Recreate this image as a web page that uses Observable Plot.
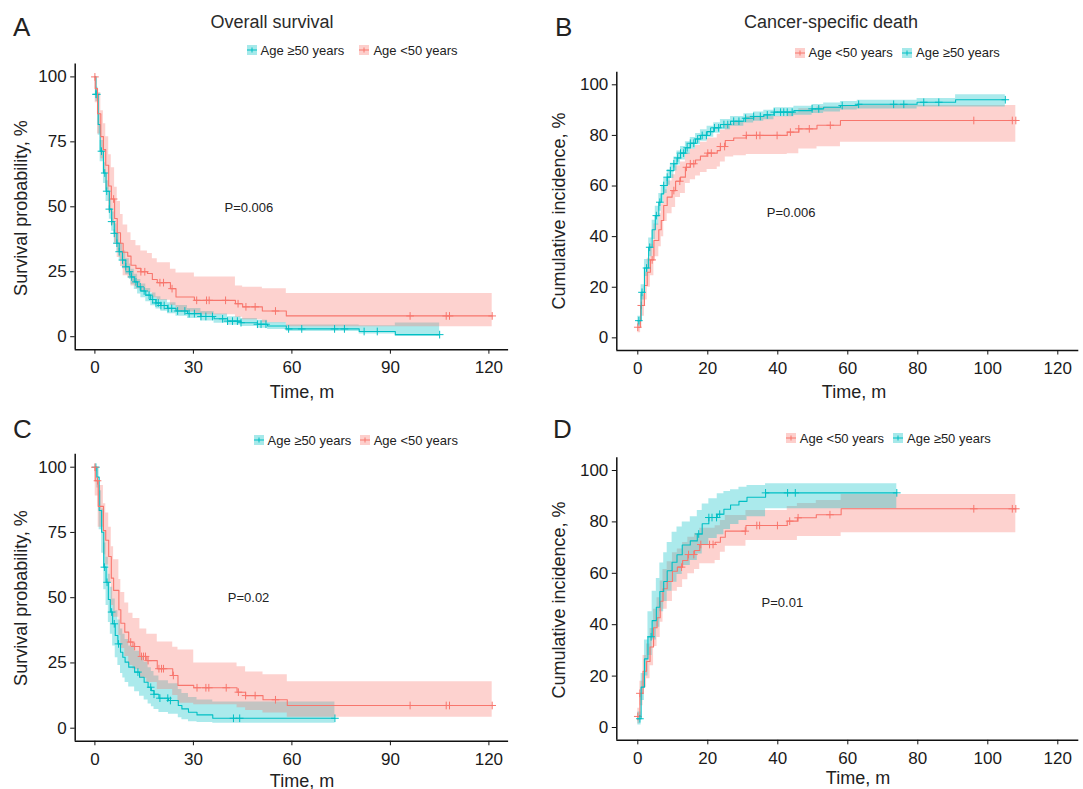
<!DOCTYPE html>
<html>
<head>
<meta charset="utf-8">
<script src="https://cdn.jsdelivr.net/npm/d3@7"></script>
<script src="https://cdn.jsdelivr.net/npm/@observablehq/plot@0.6"></script>
<style>
  html, body { margin: 0; padding: 0; background: #fff; }
  #root { position: relative; width: 1083px; height: 789px; overflow: hidden; font-family: "Liberation Sans", Arial, Helvetica, sans-serif; color: #222; }
  .abs { position: absolute; white-space: nowrap; }
  .c { transform: translate(-50%, -50%); }
  .rot { transform: translate(-50%, -50%) rotate(-90deg); }
  .letter { font-size: 26px; color: #222; }
  .title { font-size: 18px; color: #2a2a2a; }
  .axt { font-size: 18px; color: #222; }
  .leg { font-size: 13px; color: #222; display: flex; align-items: center; }
  svg { overflow: visible; }
</style>
</head>
<body>
<div id="root"></div>
<script>
const TEAL = "#00BFC4", RED = "#F8766D";
const LAB_HI = "Age \u226550 years", LAB_LO = "Age <50 years";

// ---------- Panel A: Overall survival ----------
const aTealT  = [0, 0.3, 1, 1.6, 2.6, 3.4, 4.4, 5.1, 5.9, 6.7, 7.4, 8.4, 9.4, 10.5, 11, 12, 13, 14, 15.5, 17, 18.6, 20.1, 22.1, 24.7, 28.2, 32.3, 36.3, 40.4, 44.5, 49.5, 52.6, 58.3, 80.5, 91.5, 105];
const aTealS  = [100, 93.3, 81.7, 71.4, 63, 56, 49.1, 44.3, 39.8, 36, 32.7, 29.5, 26.9, 25, 23, 21.1, 19.2, 17.6, 16, 14.3, 13, 12, 10.9, 9.9, 8.9, 7.8, 6.9, 6.0, 5.4, 4.8, 4.1, 3.0, 2.0, 0.8, 0.8];
const aTealHi = [100, 96, 86, 75.5, 67, 60, 53, 48, 43.5, 39.5, 36, 33, 30, 28, 26, 24, 22, 20.3, 18.6, 16.8, 15.4, 14.3, 13.1, 12, 10.9, 9.7, 8.7, 7.7, 7, 6.3, 5.5, 4.5, 4.2, 5.3, 5.3];
const aTealLo = [100, 90.5, 77.5, 67.3, 59, 52, 45.2, 40.6, 36.2, 32.5, 29.4, 26.2, 23.8, 22, 20, 18.2, 16.4, 15, 13.5, 11.9, 10.7, 9.8, 8.8, 7.9, 7, 6, 5.2, 4.4, 3.9, 3.3, 2.8, 2.0, 1.0, 0.1, 0.1];
const aTealCens = [0.3, 0.6, 2, 3, 3.6, 4.4, 5.1, 5.9, 6.7, 7.4, 8.4, 9.4, 10.5, 11.2, 12.5, 13.8, 15, 16.5, 17.6, 18.6, 19.3, 20.1, 21.1, 22.3, 23.4, 25.2, 27.4, 28.7, 30.3, 32.3, 33.8, 35.8, 38.9, 40.4, 41.9, 43.4, 44.5, 49.5, 50.6, 52.1, 59, 63, 73, 76, 82, 86, 105];
const aRedT  = [0, 0.1, 0.8, 1.8, 2.6, 3.3, 4.2, 5, 6, 6.8, 7.8, 8.6, 10, 11, 12.5, 14, 16, 17.5, 19, 23, 24.7, 30.3, 42.8, 45, 51, 58.3, 121];
const aRedS  = [100, 95.5, 85.8, 77, 72, 66, 58, 53, 45.5, 40, 36, 32.5, 31, 27.5, 26.3, 25, 24.3, 22, 20.8, 18.5, 15.3, 14, 12.7, 11.5, 9.9, 8.0, 8.0];
const aRedHi = [100, 100, 94, 87, 82, 77, 70, 65, 57.5, 52, 47, 43, 40, 37, 35, 33, 32, 30, 28.5, 26, 24.5, 23, 19.5, 19, 18.5, 16.6, 16.6];
const aRedLo = [100, 90, 78, 68.5, 63, 56.5, 48, 43, 35.5, 30.5, 27, 23.5, 22.5, 19.5, 18.5, 17.5, 17, 15, 14, 12, 9.5, 8.5, 7.5, 6.5, 5.4, 3.8, 3.8];
const aRedCens = [0, 5.7, 14, 15.2, 19.8, 20.9, 23.5, 31, 34, 34.8, 39.8, 43.6, 46, 48.8, 55, 96, 107, 108, 121];

// ---------- Panel B: Cancer-specific death ----------
const bTealT  = [0, 0.95, 1.9, 3.1, 4.1, 5.0, 6.0, 6.7, 7.4, 8.4, 9.3, 10.3, 11.2, 12.2, 13.6, 15.0, 16.5, 17.9, 19.8, 21.7, 23.6, 26.5, 30.3, 33.1, 36, 38.9, 44.6, 49.8, 53.1, 57.9, 62.7, 79.8, 90.8, 105];
const bTealS  = [6.8, 18, 27.6, 35.8, 42.7, 48.3, 53.6, 56.9, 60.2, 63.5, 66.1, 68.8, 71.1, 73, 75.1, 76.9, 78.6, 80, 81.5, 83, 84.3, 85.6, 86.8, 87.5, 88.1, 89.2, 89.8, 90.5, 91.1, 91.8, 92.3, 93.1, 94.1, 94.1];
const bTealHi = [8.5, 21, 31, 39.5, 46.5, 52, 57, 60.3, 63.3, 66.5, 69, 71.5, 73.8, 75.6, 77.5, 79.2, 80.8, 82.2, 83.6, 85, 86.3, 87.5, 88.6, 89.3, 89.9, 90.9, 91.5, 92.2, 92.8, 93.4, 93.9, 94.6, 96.1, 96.1];
const bTealLo = [4.5, 15, 24.2, 32, 38.9, 44.5, 50, 53.4, 57, 60.3, 63, 65.9, 68.3, 70.3, 72.6, 74.5, 76.3, 77.7, 79.3, 80.9, 82.2, 83.6, 84.9, 85.6, 86.2, 87.4, 88, 88.7, 89.3, 90, 90.4, 91.2, 91.2, 91.2];
const bTealCens = [0.3, 1.2, 2.5, 3.4, 5.3, 6.3, 7.4, 8.4, 9.3, 10.3, 11.4, 12.2, 13.1, 14.1, 15, 16, 17.1, 18.4, 19.6, 20.8, 21.9, 23.1, 24.6, 25.7, 27.4, 28.9, 30.8, 33.1, 35, 37, 39, 40.8, 41.7, 42.7, 44.1, 49.8, 51.7, 58.4, 63.1, 73.1, 76, 81.7, 86, 105];
const bRedT  = [0, 0.8, 1.9, 2.7, 3.6, 4.6, 6, 6.7, 7.4, 8.4, 9.8, 10.8, 12.2, 13.6, 15, 16.5, 17.9, 19.8, 22.7, 23.6, 25, 27.4, 31, 42.7, 46, 51.2, 57.9, 108];
const bRedS  = [4.2, 12.8, 20.7, 25.9, 30.8, 38.5, 42.7, 46.4, 52.3, 55.6, 58.2, 61.9, 63.5, 67.4, 68.8, 70.3, 71.8, 73, 74, 75.6, 78, 79, 80, 81.3, 82.6, 84, 85.9, 85.9];
const bRedHi = [6.5, 17, 26, 31.5, 37, 45, 49, 53, 58.5, 62, 64.5, 68, 69.5, 73, 74.5, 76, 77.3, 79, 80.5, 82, 84.5, 85.5, 87.5, 89, 90.5, 91.2, 91.8, 91.8];
const bRedLo = [2, 8.5, 15, 20, 24.5, 32, 36, 40, 46, 49, 51.5, 55.5, 57, 61, 62.5, 64, 65.3, 66.5, 67.5, 69.5, 71.5, 72, 72.5, 72.8, 74.6, 75.5, 77.3, 77.3];
const bRedCens = [0, 1, 4.1, 10.3, 12, 13.9, 15, 16, 20, 21, 23.6, 24.8, 31, 33.9, 34.9, 39.8, 43.6, 46, 49, 55, 96, 107, 108];

// ---------- Panel C: Overall survival (second cohort) ----------
const cTealT  = [0, 0.6, 1.3, 2.05, 2.7, 3.4, 4.1, 4.7, 5.4, 6.2, 7, 7.8, 8.5, 9.2, 10.3, 12.1, 13.6, 15, 16.2, 17.2, 18, 19.5, 22.4, 25.4, 26.5, 28.5, 31.1, 35.9, 73.1];
const cTealS  = [100, 96.2, 83.4, 75.1, 61.7, 55.9, 49.3, 44.5, 40, 35.5, 32.3, 29.1, 27.2, 25.3, 23.4, 21.5, 19.5, 17.6, 15.7, 14.4, 13, 11.5, 10.6, 8.7, 7.4, 6.1, 5.1, 3.8, 3.8];
const cTealHi = [100, 100, 91, 84, 71, 65.5, 59, 54, 49.5, 45, 41.5, 38, 36, 34, 31.5, 29.5, 27.3, 25.3, 23.2, 21.7, 20, 18.2, 17, 14.8, 13.3, 11.8, 10.8, 10, 10];
const cTealLo = [100, 92, 76, 67, 53, 47, 40.5, 36, 31.5, 27, 24, 21, 19.2, 17.5, 15.8, 14, 12.2, 10.8, 9.3, 8.2, 7.2, 6, 5.3, 4, 3.2, 2.5, 2.2, 1.9, 1.9];
const cTealCens = [0.3, 2.9, 3.7, 5.1, 5.9, 7.2, 13.1, 17, 18, 19.8, 22.2, 23, 42.2, 44.1, 73.1];
const cRedT  = [0, 0.1, 1.0, 2.6, 3.3, 4.2, 5.0, 5.7, 7.3, 7.9, 9.1, 10.3, 11.6, 13.7, 15.8, 19, 23.7, 25.3, 30.1, 43.3, 45.9, 51.2, 58.6, 121];
const cRedS  = [100, 94.8, 85, 75.7, 72, 65.8, 57.5, 52.8, 45.4, 40.2, 36.8, 33, 31.3, 27.5, 25.9, 22.8, 20.2, 16.4, 15.5, 13.8, 12.5, 10.9, 8.7, 8.7];
const cRedHi = [100, 100, 93, 86, 82.5, 77, 69.5, 64.5, 57, 52, 48, 44, 42, 38, 36, 33, 31, 30, 25, 23.5, 21.5, 20.5, 17.8, 17.8];
const cRedLo = [100, 89, 77, 66.5, 62.5, 55.5, 47, 42.5, 35.5, 30.5, 27.5, 24, 22.5, 19, 17.5, 14.8, 12.5, 9.6, 9, 7.8, 6.8, 5.8, 4.2, 4.2];
const cRedCens = [0, 0.8, 10.9, 12.1, 14.2, 14.8, 15.4, 16.2, 19.5, 20.3, 20.9, 23.9, 31.1, 33.8, 34.7, 40, 43.7, 45.9, 48.8, 55, 96, 107, 108, 121];

// ---------- Panel D: Cancer-specific death (second cohort) ----------
const dTealT  = [0, 0.95, 1.9, 2.9, 4.1, 5.3, 6.3, 7.4, 8.4, 9.8, 11.2, 12.7, 15, 17, 18.4, 20.3, 22.7, 24.6, 26.5, 28.9, 31.2, 36.5, 74];
const dTealS  = [3.4, 15.7, 26.7, 35.3, 41.6, 46.8, 52.9, 56.8, 61, 64.3, 67.2, 71, 72.6, 75.3, 79.3, 81.7, 83, 84.9, 86.6, 88, 89.6, 91.3, 91.3];
const dTealHi = [6, 21, 34, 45, 53, 58, 64, 68, 72, 76, 78, 80, 82, 84.4, 87, 89, 91, 91.8, 92.5, 93.5, 94.2, 94.8, 94.8];
const dTealLo = [1, 10.5, 20, 28, 34, 39, 45, 49, 53, 56.5, 59.5, 63, 65, 67.5, 71, 73.5, 75, 77, 79, 80.5, 82, 85.1, 85.1];
const dTealCens = [0.6, 3.8, 17.4, 20.3, 21.2, 22.5, 23.4, 36.5, 42.8, 45, 74];
const dRedT  = [0, 0.6, 1.5, 2.5, 3.5, 4.5, 5.5, 6.4, 7.2, 8.4, 9.9, 11.3, 12.8, 14.3, 16.2, 17.7, 22.1, 23.6, 25, 30.9, 42.7, 45.6, 51, 58.1, 108];
const dRedS  = [4.3, 13.3, 21.9, 25.7, 31.3, 38.8, 42.7, 49.1, 54, 56.8, 60.8, 62.4, 65, 67.3, 68.9, 71.2, 72.1, 74, 76.4, 78.6, 80.3, 81.6, 82.8, 85.1, 85.1];
const dRedHi = [7.5, 18, 28, 32.5, 38.5, 46, 50.5, 57, 61.5, 64.5, 68, 69.5, 72, 74, 75.5, 77.5, 78.5, 80.5, 82.5, 84.4, 86, 87.2, 88.3, 90.7, 90.7];
const dRedLo = [1.5, 8.5, 15.5, 19, 24, 31.5, 35, 41, 46, 49, 53, 54.5, 57.5, 59.8, 61.5, 63.7, 65, 68.2, 70.5, 72.8, 72.8, 74.3, 74.3, 75.8, 75.8];
const dRedCens = [0, 0.6, 12.5, 14.5, 16, 18, 20.5, 21.5, 30.7, 34, 34.8, 39.9, 43.4, 45.8, 54.9, 96, 107, 108];

// tick labels
const xTicksSurv = [0, 30, 60, 90, 120];
const xTicksInc  = [0, 20, 40, 60, 80, 100, 120];
const yTicksSurv = [0, 25, 50, 75, 100];
const yTicksInc  = [0, 20, 40, 60, 80, 100];

// ---------- helpers ----------
function stepAt(ts, vs, t) {
  let v = vs[0];
  for (let i = 0; i < ts.length; i++) if (ts[i] <= t) v = vs[i];
  return v;
}
function series(ts, vs, lo, hi, cens, color) {
  return {
    color,
    rows: ts.map((t, i) => ({t, v: vs[i], lo: lo[i], hi: hi[i]})),
    cens: cens.map(c => ({t: c, v: stepAt(ts, vs, c)}))
  };
}

const FONT = '"Liberation Sans", Arial, Helvetica, sans-serif';
const root = document.getElementById("root");

function place(html, cls, x, y) {
  const d = document.createElement("div");
  d.className = "abs " + cls;
  d.style.left = x + "px";
  d.style.top = y + "px";
  d.textContent = html;
  root.appendChild(d);
  return d;
}

function legendItem(x, y, color, label) {
  const d = document.createElement("div");
  d.className = "abs leg";
  d.style.left = x + "px";
  d.style.top = (y - 8) + "px";
  d.style.height = "16px";
  d.innerHTML =
    `<svg width="10" height="10" style="margin-right:4px">` +
    `<rect x="0" y="0" width="10" height="10" fill="${color}" fill-opacity="0.35"></rect>` +
    `<line x1="0" y1="5" x2="10" y2="5" stroke="${color}" stroke-width="1"></line>` +
    `<line x1="5" y1="2.5" x2="5" y2="7.5" stroke="${color}" stroke-width="1"></line></svg>`;
  const s = document.createElement("span");
  s.textContent = label;
  d.appendChild(s);
  root.appendChild(d);
}

function drawPanel(cfg) {
  const marks = [];
  for (const s of cfg.series) {
    marks.push(Plot.areaY(s.rows, {x: "t", y1: "lo", y2: "hi", curve: "step-after", fill: s.color, fillOpacity: 0.33}));
  }
  for (const s of cfg.series) {
    marks.push(Plot.lineY(s.rows, {x: "t", y: "v", curve: "step-after", stroke: s.color, strokeWidth: 1.1}));
    marks.push(Plot.dot(s.cens, {x: "t", y: "v", symbol: "plus", r: 2.6, stroke: s.color, strokeWidth: 1}));
  }
  marks.push(Plot.ruleX([-6], {stroke: "#111", strokeWidth: 1.5}));
  marks.push(Plot.ruleY([-5], {stroke: "#111", strokeWidth: 1.5}));
  marks.push(Plot.axisX({ticks: cfg.xticks, tickSize: 4.5, tickPadding: 7, label: null, tickFormat: d => String(d), stroke: "#111"}));
  marks.push(Plot.axisY({ticks: cfg.yticks, tickSize: 4.5, tickPadding: 4, label: null, tickFormat: d => String(d), stroke: "#111"}));
  marks.push(Plot.text([{t: cfg.pT, v: cfg.pV, s: cfg.p}], {x: "t", y: "v", text: "s", fontSize: 13, fill: "#222", fontFamily: FONT}));

  const chart = Plot.plot({
    width: cfg.width, height: cfg.height,
    marginLeft: cfg.ml, marginRight: cfg.mr, marginTop: cfg.mt, marginBottom: cfg.mb,
    x: {domain: [-6, 126]},
    y: {domain: [-5, 105]},
    style: {fontFamily: FONT, fontSize: "17px", color: "#1a1a1a", background: "transparent", overflow: "visible"},
    marks
  });
  const wrap = document.createElement("div");
  wrap.className = "abs";
  wrap.style.left = cfg.left + "px";
  wrap.style.top = cfg.top + "px";
  wrap.appendChild(chart);
  root.appendChild(wrap);
}

// ---------- panels ----------
drawPanel({
  left: 0, top: 0, width: 541, height: 400, ml: 74.7, mr: 32.9, mt: 63.4, mb: 50.8,
  xticks: xTicksSurv, yticks: yTicksSurv, p: "P=0.006", pT: 46.9, pV: 49.6,
  series: [
    series(aTealT, aTealS, aTealLo, aTealHi, aTealCens, TEAL),
    series(aRedT, aRedS, aRedLo, aRedHi, aRedCens, RED)
  ]
});
drawPanel({
  left: 541, top: 0, width: 542, height: 400, ml: 75.3, mr: 4.7, mt: 71.65, mb: 50,
  xticks: xTicksInc, yticks: yTicksInc, p: "P=0.006", pT: 43.8, pV: 49.6,
  series: [
    series(bRedT, bRedS, bRedLo, bRedHi, bRedCens, RED),
    series(bTealT, bTealS, bTealLo, bTealHi, bTealCens, TEAL)
  ]
});
drawPanel({
  left: 0, top: 400, width: 541, height: 389, ml: 74.7, mr: 32.9, mt: 53.65, mb: 48.25,
  xticks: xTicksSurv, yticks: yTicksSurv, p: "P=0.02", pT: 46.8, pV: 49.8,
  series: [
    series(cTealT, cTealS, cTealLo, cTealHi, cTealCens, TEAL),
    series(cRedT, cRedS, cRedLo, cRedHi, cRedCens, RED)
  ]
});
drawPanel({
  left: 541, top: 400, width: 542, height: 389, ml: 75.3, mr: 4.7, mt: 57.15, mb: 49.15,
  xticks: xTicksInc, yticks: yTicksInc, p: "P=0.01", pT: 41.3, pV: 48.5,
  series: [
    series(dRedT, dRedS, dRedLo, dRedHi, dRedCens, RED),
    series(dTealT, dTealS, dTealLo, dTealHi, dTealCens, TEAL)
  ]
});

// ---------- text ----------
place("A", "letter", 13, 12);
place("B", "letter", 555, 12);
place("C", "letter", 13, 414);
place("D", "letter", 553, 414);

place("Overall survival", "title c", 272, 22);
place("Cancer-specific death", "title c", 831, 22);

place("Time, m", "axt c", 302, 392);
place("Time, m", "axt c", 854, 392);
place("Time, m", "axt c", 302, 781);
place("Time, m", "axt c", 858, 778);

place("Survival probability, %", "axt rot", 21, 207.5);
place("Cumulative incidence, %", "axt rot", 559, 211);
place("Survival probability, %", "axt rot", 21, 597.5);
place("Cumulative incidence, %", "axt rot", 559, 600);

legendItem(246.5, 50, TEAL, LAB_HI);
legendItem(359.4, 50, RED, LAB_LO);
legendItem(794.5, 52.7, RED, LAB_LO);
legendItem(902, 52.7, TEAL, LAB_HI);
legendItem(253.5, 440.3, TEAL, LAB_HI);
legendItem(359.7, 440.3, RED, LAB_LO);
legendItem(785.8, 438.3, RED, LAB_LO);
legendItem(893, 438.3, TEAL, LAB_HI);
</script>
</body>
</html>
